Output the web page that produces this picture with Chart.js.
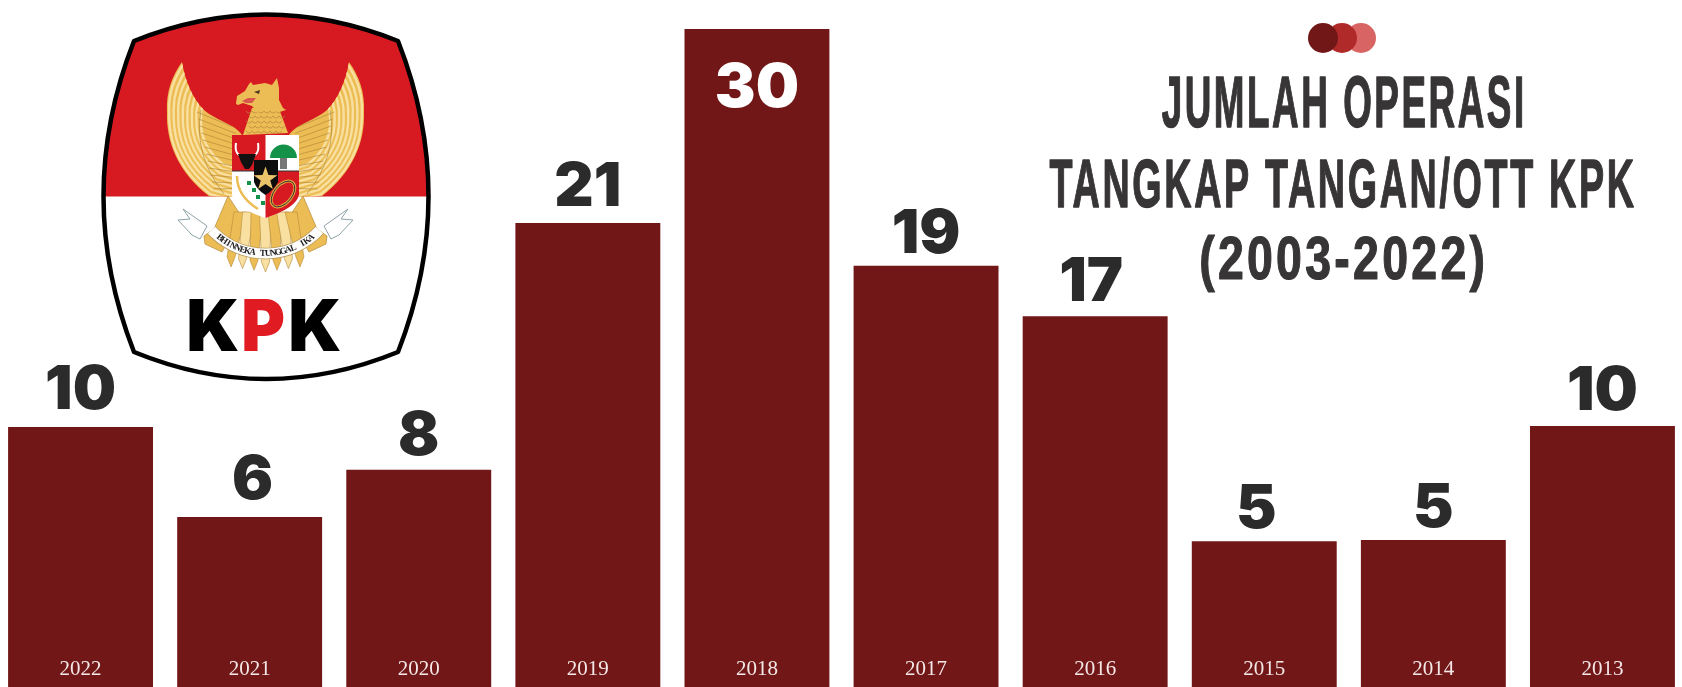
<!DOCTYPE html>
<html>
<head>
<meta charset="utf-8">
<title>Jumlah Operasi Tangkap Tangan/OTT KPK</title>
<script src="https://cdn.jsdelivr.net/npm/chart.js@4"></script>
<style>
    html, body { margin: 0; padding: 0; background: #fff; overflow: hidden; }
    #wrap { position: absolute; left: -4px; top: 0; width: 1691px; height: 687px; }
</style>
</head>
<body>
<div id="wrap"><canvas id="ottChart" width="1691" height="687"></canvas></div>
<script>
const years = ['2022', '2021', '2020', '2019', '2018', '2017', '2016', '2015', '2014', '2013'];
// the printed numbers
const cases = [10, 6, 8, 21, 30, 19, 17, 5, 5, 10];
// the bars in the picture are not quite to scale with the printed numbers,
// so the lengths are read off separately (in units of the 30 bar)
const barLengths = [11.85, 7.75, 9.9, 21.15, 30, 19.2, 16.9, 6.65, 6.7, 11.9];
const titleLines = ['JUMLAH OPERASI', 'TANGKAP TANGAN/OTT KPK', '(2003-2022)'];

const MAROON = '#721717';
const INK = '#2b2b2b';
const GOLD = '#ecbd55';
const CREAM = '#f9e0a0';
const BROWN = '#b58a3a';
const HEADLINE_FONT = 'bold 100px "Liberation Sans Narrow", "Liberation Sans"';

// small hand nudges of the printed numbers, px
const labelShiftX = [0, 3, 0, 0, 0, 0, -4, -8, 0, 0];
const labelShiftY = [-3, -3, 0, -2, 2, 2, 0, 2, 2, -1];

function poly(ctx, pts, fill) {
    ctx.beginPath();
    pts.forEach((p, i) => (i ? ctx.lineTo(p[0], p[1]) : ctx.moveTo(p[0], p[1])));
    ctx.closePath();
    if (fill) { ctx.fillStyle = fill; ctx.fill(); }
}

// text stretched to sit exactly in a box
function boxText(ctx, text, left, right, top, bottom, font, spacing, weight) {
    ctx.save();
    ctx.font = font;
    ctx.letterSpacing = (spacing || 0) + 'px';
    ctx.textAlign = 'left';
    ctx.textBaseline = 'alphabetic';
    const m = ctx.measureText(text);
    const w = m.actualBoundingBoxLeft + m.actualBoundingBoxRight;
    const h = m.actualBoundingBoxAscent + m.actualBoundingBoxDescent;
    ctx.translate(left, top);
    ctx.scale((right - left) / w, (bottom - top) / h);
    ctx.fillText(text, m.actualBoundingBoxLeft, m.actualBoundingBoxAscent);
    if (weight) {
        ctx.strokeStyle = ctx.fillStyle;
        ctx.lineWidth = weight;
        ctx.lineJoin = 'round';
        ctx.strokeText(text, m.actualBoundingBoxLeft, m.actualBoundingBoxAscent);
    }
    ctx.restore();
}

function wingEdge(ctx) {
    ctx.moveTo(182, 62);
    ctx.bezierCurveTo(172, 76, 166, 92, 167, 112);
    ctx.bezierCurveTo(166, 142, 178, 172, 209, 196);
}

function drawWing(ctx, flip) {
    ctx.save();
    if (flip) { ctx.translate(531, 0); ctx.scale(-1, 1); }
    ctx.beginPath();
    wingEdge(ctx);
    ctx.lineTo(234, 197);
    ctx.lineTo(242, 135);
    ctx.bezierCurveTo(235, 124, 215, 120, 204, 110);
    ctx.bezierCurveTo(192, 98, 185, 80, 182, 62);
    ctx.closePath();
    ctx.fillStyle = GOLD;
    ctx.fill();
    ctx.clip();
    // long feathers: copies of the outer edge shrunk toward the shoulder
    for (let s = 0.97; s > 0.5; s -= 0.062) {
        ctx.save();
        ctx.translate(240, 128);
        ctx.scale(s, s);
        ctx.translate(-240, -128);
        ctx.beginPath();
        wingEdge(ctx);
        ctx.lineTo(240, 205);
        ctx.strokeStyle = CREAM;
        ctx.lineWidth = 2.4 / s;
        ctx.stroke();
        ctx.restore();
    }
    // small covert feathers
    ctx.strokeStyle = BROWN;
    ctx.lineWidth = 0.7;
    ctx.beginPath();
    ctx.moveTo(201, 110);
    ctx.quadraticCurveTo(193, 155, 224, 194);
    ctx.stroke();
    for (let i = 0; i < 12; i++) {
        ctx.beginPath();
        ctx.moveTo(197 + i * 1.5, 112 + i * 7);
        ctx.lineTo(236, 128 + i * 5.5);
        ctx.stroke();
    }
    ctx.restore();
}

function drawFoot(ctx, flip) {
    ctx.save();
    if (flip) { ctx.translate(531, 0); ctx.scale(-1, 1); }
    // banner end
    ctx.beginPath();
    ctx.moveTo(183, 209);
    ctx.lineTo(207, 226);
    ctx.lineTo(200, 239);
    ctx.lineTo(192, 235);
    ctx.lineTo(178, 220);
    ctx.lineTo(190, 219);
    ctx.closePath();
    ctx.fillStyle = '#fff';
    ctx.fill();
    ctx.strokeStyle = '#8ea2a8';
    ctx.lineWidth = 1;
    ctx.stroke();
    // leg and claw
    poly(ctx, [[228, 196], [240, 214], [230, 238], [222, 252], [205, 244], [204, 236], [214, 229]], GOLD);
    ctx.strokeStyle = BROWN;
    ctx.lineWidth = 0.7;
    ctx.stroke();
    ctx.restore();
}

function drawEmblem(ctx) {
    const cx = 265.5;
    drawWing(ctx, false);
    drawWing(ctx, true);
    drawFoot(ctx, false);
    drawFoot(ctx, true);

    // tail feathers
    for (let i = 0; i < 7; i++) {
        const x = 240 + i * 8.5;
        const dx = (x - cx) * 0.35;
        poly(ctx, [[x - 6, 212], [x + 6, 212], [x + 4 + dx, 262 - Math.abs(x - cx) * 0.2], [x + dx, 272 - Math.abs(x - cx) * 0.2], [x - 4 + dx, 262 - Math.abs(x - cx) * 0.2]], i % 2 ? CREAM : GOLD);
        ctx.strokeStyle = BROWN;
        ctx.lineWidth = 0.6;
        ctx.stroke();
    }

    // motto ribbon
    const rcy = 179.5;
    ctx.beginPath();
    ctx.arc(cx, rcy, 74, Math.PI * 0.24, Math.PI * 0.76);
    ctx.strokeStyle = '#b99a5a';
    ctx.lineWidth = 11.5;
    ctx.stroke();
    ctx.strokeStyle = '#fff';
    ctx.lineWidth = 10;
    ctx.stroke();
    const motto = 'BHINNEKA TUNGGAL IKA';
    ctx.save();
    ctx.font = 'bold 9px "Liberation Serif"';
    ctx.fillStyle = '#222';
    ctx.textAlign = 'center';
    ctx.textBaseline = 'middle';
    for (let i = 0; i < motto.length; i++) {
        const a = Math.PI / 2 + (motto.length / 2 - i - 0.5) * 0.07;
        ctx.save();
        ctx.translate(cx + 74 * Math.cos(a), rcy + 74 * Math.sin(a));
        ctx.rotate(a - Math.PI / 2);
        ctx.fillText(motto[i], 0, 0);
        ctx.restore();
    }
    ctx.restore();

    // neck and head
    poly(ctx, [[252, 108], [278, 106], [288, 133], [243, 135]], GOLD);
    ctx.strokeStyle = BROWN;
    ctx.lineWidth = 0.7;
    for (let i = 0; i < 5; i++) {
        for (let j = 0; j < 6; j++) {
            ctx.beginPath();
            ctx.arc(249 + j * 6 + (i % 2) * 3, 110 + i * 5, 3, 0.3, Math.PI - 0.3);
            ctx.stroke();
        }
    }
    poly(ctx, [[236, 104], [237, 96], [245, 91], [249, 84], [251, 82], [253, 85], [265, 83], [272, 85], [277, 78], [279, 88], [279, 100], [283, 108], [286, 110], [279, 112], [268, 110], [257, 112], [252, 106], [243, 103], [238, 105]], GOLD);
    poly(ctx, [[242, 101], [248, 98], [256, 98], [252, 103], [246, 103]], '#d9534f');
    poly(ctx, [[254, 92], [260, 90], [259, 94]], '#4a3a20');

    // coat of arms
    ctx.save();
    ctx.beginPath();
    ctx.moveTo(232, 135);
    ctx.lineTo(299, 135);
    ctx.lineTo(299, 195);
    ctx.quadraticCurveTo(296, 208, 265.5, 218);
    ctx.quadraticCurveTo(235, 208, 232, 195);
    ctx.closePath();
    ctx.fillStyle = '#fff';
    ctx.fill();
    ctx.save();
    ctx.clip();
    ctx.fillStyle = '#d71a21';
    ctx.fillRect(232, 135, 33.5, 36);
    ctx.fillRect(265.5, 171, 34, 50);
    // tree
    ctx.fillStyle = '#777';
    ctx.fillRect(280, 158, 7, 11);
    ctx.fillStyle = '#15924a';
    ctx.beginPath();
    ctx.arc(283.5, 158, 13.5, Math.PI, 0);
    ctx.fill();
    // bull
    ctx.strokeStyle = '#fff';
    ctx.lineWidth = 2;
    ctx.beginPath();
    ctx.moveTo(236, 143);
    ctx.quadraticCurveTo(234, 156, 244, 156);
    ctx.moveTo(258, 143);
    ctx.quadraticCurveTo(260, 156, 250, 156);
    ctx.stroke();
    poly(ctx, [[238, 154], [256, 154], [252, 165], [249, 169], [245, 169], [241, 162]], '#111');
    // rice
    ctx.strokeStyle = GOLD;
    ctx.lineWidth = 2.5;
    ctx.beginPath();
    ctx.moveTo(237, 176);
    ctx.quadraticCurveTo(237, 196, 258, 209);
    ctx.stroke();
    ctx.fillStyle = '#15924a';
    [[247, 181], [252, 188], [256, 195], [261, 201]].forEach(p => ctx.fillRect(p[0], p[1], 4, 4));
    // chain
    ctx.strokeStyle = '#e0a63e';
    ctx.lineWidth = 3;
    ctx.beginPath();
    ctx.ellipse(283, 194, 9, 15, Math.PI * 0.22, 0, Math.PI * 2);
    ctx.stroke();
    ctx.restore();
    ctx.strokeStyle = '#333';
    ctx.lineWidth = 1;
    ctx.stroke();
    ctx.beginPath();
    ctx.moveTo(232, 171);
    ctx.lineTo(299, 171);
    ctx.stroke();
    ctx.restore();

    // centre shield and star
    ctx.beginPath();
    ctx.moveTo(254, 160);
    ctx.lineTo(278, 160);
    ctx.lineTo(278, 182);
    ctx.quadraticCurveTo(274, 190, 265.5, 195);
    ctx.quadraticCurveTo(257, 190, 254, 182);
    ctx.closePath();
    ctx.fillStyle = '#0d0d0d';
    ctx.fill();
    const star = [];
    for (let i = 0; i < 10; i++) {
        const r = i % 2 ? 5 : 12.5;
        const a = -Math.PI / 2 + i * Math.PI / 5;
        star.push([265.5 + r * Math.cos(a), 179 + r * Math.sin(a)]);
    }
    poly(ctx, star, '#eac36a');
}

function drawLogo(ctx) {
    const outline = () => {
        ctx.beginPath();
        ctx.moveTo(134, 41);
        ctx.quadraticCurveTo(266, -12, 398, 41);
        ctx.quadraticCurveTo(459, 196, 398, 352);
        ctx.quadraticCurveTo(266, 406, 134, 352);
        ctx.quadraticCurveTo(73, 196, 134, 41);
        ctx.closePath();
    };
    outline();
    ctx.fillStyle = '#fff';
    ctx.fill();
    ctx.save();
    ctx.clip();
    ctx.fillStyle = '#d71a21';
    ctx.fillRect(90, 0, 350, 196.5);
    ctx.restore();

    drawEmblem(ctx);

    outline();
    ctx.strokeStyle = '#000';
    ctx.lineWidth = 4.5;
    ctx.lineJoin = 'round';
    ctx.stroke();

    const logoFont = '900 100px Inter';
    ctx.fillStyle = '#000';
    boxText(ctx, 'K', 189, 238, 299, 351, logoFont);
    boxText(ctx, 'K', 291, 340, 299, 351, logoFont);
    ctx.fillStyle = '#e01b22';
    boxText(ctx, 'P', 244, 284, 299, 351, logoFont);
}

// headline, dots and the emblem sit on the canvas; canvas starts 4px left of the page
const decorPlugin = {
    id: 'decor',
    beforeDatasetsDraw(chart) {
        const ctx = chart.ctx;
        ctx.save();
        ctx.translate(4, 0);
        drawLogo(ctx);

        [[1361, '#d96464'], [1342, '#b02a2a'], [1323, MAROON]].forEach(d => {
            ctx.beginPath();
            ctx.arc(d[0], 38, 15, 0, Math.PI * 2);
            ctx.fillStyle = d[1];
            ctx.fill();
        });

        ctx.fillStyle = '#373535';
        boxText(ctx, titleLines[0], 1162, 1522, 77, 128, HEADLINE_FONT, 7, 2);
        boxText(ctx, titleLines[1], 1050, 1634, 157, 208, HEADLINE_FONT, 7, 2);
        boxText(ctx, titleLines[2], 1201, 1483, 235, 292, HEADLINE_FONT, 7, 2);
        ctx.restore();
    },
    afterDatasetsDraw(chart) {
        const ctx = chart.ctx;
        const bars = chart.getDatasetMeta(0).data;
        ctx.save();
        ctx.font = '900 61px Inter';
        ctx.textAlign = 'center';
        ctx.textBaseline = 'alphabetic';
        bars.forEach((bar, i) => {
            const inside = cases[i] === 30;
            ctx.fillStyle = inside ? '#fff' : INK;
            ctx.fillText(String(cases[i]), bar.x + labelShiftX[i], (inside ? bar.y + 76 : bar.y - 15) + labelShiftY[i]);
        });
        ctx.restore();
    }
};

new Chart(document.getElementById('ottChart').getContext('2d'), {
    type: 'bar',
    data: {
        labels: years,
        datasets: [{
            label: 'Jumlah OTT',
            data: barLengths,
            backgroundColor: MAROON,
            borderWidth: 0,
            barPercentage: 0.857,
            categoryPercentage: 1,
        }],
    },
    options: {
        responsive: false,
        animation: false,
        devicePixelRatio: 1,
        layout: { padding: 0 },
        plugins: { legend: { display: false }, tooltip: { enabled: false } },
        scales: {
            x: {
                grid: { display: false },
                border: { display: false },
                afterFit: scale => { scale.height = 0; }, // labels live inside the bars
                ticks: {
                    z: 1,
                    mirror: true, // mirror also stops the axis clipping them away
                    padding: 5,
                    color: '#f3e7e7',
                    font: { family: '"Liberation Serif"', size: 21 },
                    maxRotation: 0,
                },
            },
            y: { display: false, min: 0, max: 31.32 },
        },
    },
    plugins: [decorPlugin],
});
</script>
</body>
</html>
